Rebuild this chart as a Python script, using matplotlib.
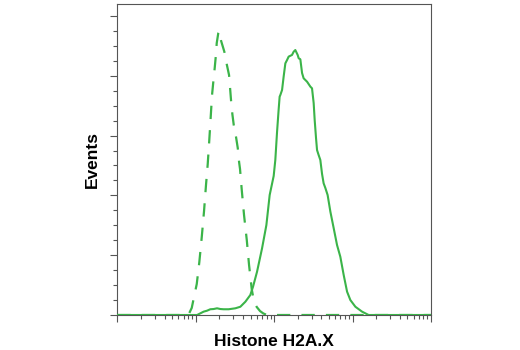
import numpy as np
import matplotlib.pyplot as plt
from matplotlib.ticker import LogLocator, MultipleLocator, NullFormatter

# log10 fluorescence intensity / event counts for the two histograms
ctrl_log = [1.000, 1.906, 1.949, 2.013, 2.046, 2.077, 2.106, 2.131, 2.153, 2.173,
            2.191, 2.208, 2.224, 2.242, 2.255, 2.268, 2.288, 2.297, 2.323, 2.365,
            2.395, 2.425, 2.450, 2.467, 2.485, 2.514, 2.536, 2.553, 2.565, 2.587,
            2.616, 2.651, 2.680, 2.714, 2.744, 2.778, 2.820, 2.862, 2.909, 5.000]
ctrl_cnt = [0.0, 0.0, 5.9, 25.9, 44.3, 65.2, 86.9, 108.7, 126.2, 146.3,
            165.5, 183.9, 194.8, 206.5, 215.7, 227.4, 235.8, 237.4, 229.3, 220.1,
            209.8, 200.6, 179.7, 168.0, 158.8, 148.8, 139.6, 127.9, 122.0, 104.5,
            83.6, 62.7, 41.8, 21.7, 10.9, 6.7, 3.3, 1.3, 0.0, 0.0]

h2ax_log = [1.000, 2.017, 2.101, 2.144, 2.186, 2.228, 2.272, 2.314, 2.356, 2.420,
            2.505, 2.569, 2.633, 2.696, 2.731, 2.782, 2.846, 2.901, 2.943, 2.994,
            3.015, 3.037, 3.057, 3.070, 3.079, 3.101, 3.121, 3.143, 3.165, 3.185,
            3.228, 3.249, 3.270, 3.300, 3.313, 3.334, 3.356, 3.376, 3.420, 3.462,
            3.483, 3.504, 3.517, 3.534, 3.547, 3.567, 3.589, 3.611, 3.631, 3.653,
            3.682, 3.717, 3.759, 3.802, 3.844, 3.887, 3.930, 3.972, 4.036, 4.121,
            4.205, 5.000]
h2ax_cnt = [0.0, 0.0, 2.8, 3.6, 4.8, 5.0, 5.6, 5.0, 4.8, 4.8,
            5.6, 6.9, 11.1, 16.7, 23.7, 36.2, 55.8, 75.2, 100.3, 116.2,
            129.6, 153.0, 171.4, 182.5, 183.9, 188.1, 199.2, 210.4, 213.2, 216.0,
            217.4, 220.1, 221.5, 217.4, 214.6, 213.8, 202.3, 197.9, 195.0, 190.9,
            189.5, 177.2, 163.0, 148.0, 137.9, 133.8, 129.6, 117.9, 110.1, 106.2,
            100.3, 86.4, 72.7, 58.5, 48.7, 33.4, 19.5, 12.5, 6.9, 2.8,
            0.0, 0.0]

green = '#3BB449'
label_font = ['Liberation Sans', 'DejaVu Sans']

fig = plt.figure(figsize=(5.2, 3.5), dpi=100)
ax = fig.add_axes([0.2256, 0.1, 0.6032, 0.8886])

ax.plot(10 ** np.array(h2ax_log), h2ax_cnt, color=green, lw=1.5, zorder=3)
ax.plot(10 ** np.array(ctrl_log), ctrl_cnt, color=green, lw=1.6,
        dashes=(6, 5), zorder=3)

ax.set_xscale('log')
ax.set_xlim(1e1, 1e5)
ax.set_ylim(0, 260)

ax.xaxis.set_major_locator(LogLocator(base=10))
ax.xaxis.set_minor_locator(LogLocator(base=10, subs=np.arange(2, 10)))
ax.xaxis.set_major_formatter(NullFormatter())
ax.xaxis.set_minor_formatter(NullFormatter())
ax.yaxis.set_major_locator(MultipleLocator(50))
ax.yaxis.set_minor_locator(MultipleLocator(12.5))
ax.yaxis.set_major_formatter(NullFormatter())

ax.tick_params(which='major', length=5, width=0.8, color='#555555', direction='out')
ax.tick_params(which='minor', length=2.6, width=0.8, color='#555555', direction='out')
for sp in ax.spines.values():
    sp.set_linewidth(0.8)
    sp.set_color('#555555')

ax.set_xlabel('Histone H2A.X', family=label_font, fontweight='bold',
              fontsize=12.5, labelpad=5)
ax.set_ylabel('Events', family=label_font, fontweight='bold',
              fontsize=12.5, labelpad=4)

plt.savefig('out.png', dpi=100)
plt.close(fig)
